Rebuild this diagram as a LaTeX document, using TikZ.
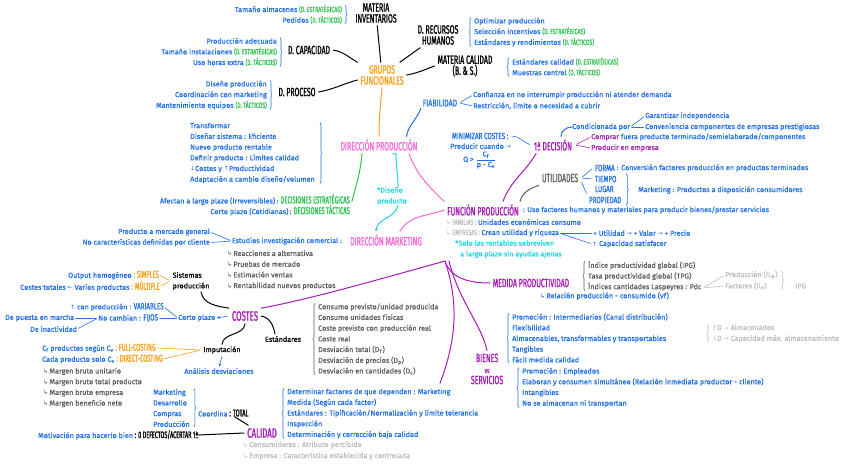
\documentclass[tikz,border=0pt]{standalone}
\usepackage{fontspec,amsmath}
\usepackage{tikz}
\usetikzlibrary{arrows.meta,positioning,decorations.pathreplacing,calc}
\setmainfont{Fira Sans}
\newfontfamily\hand[FakeBold=0.5]{Fira Sans}
\newfontfamily\tit[FakeStretch=0.58,FakeBold=1.2]{Fira Sans}
\newfontfamily\titc[FakeStretch=0.7,FakeBold=0.8]{Fira Sans}
\newfontfamily\simb{DejaVu Sans}
\definecolor{azul}{HTML}{1F6FE5}
\definecolor{verde}{HTML}{2FC24F}
\definecolor{naranja}{HTML}{F9A11B}
\definecolor{rosa}{HTML}{F76AD6}
\definecolor{morado}{HTML}{A61BB5}
\definecolor{cian}{HTML}{1ED6E3}
\definecolor{gris}{HTML}{5E5E5E}
\definecolor{grisc}{HTML}{BDBDBD}
\newcommand{\titg}{\tit\fontsize{12}{11}\selectfont}
\newcommand{\titxl}{\tit\fontsize{13.5}{12}\selectfont}
\newcommand{\titn}{\tit\fontsize{10}{10}\selectfont}
\newcommand{\titb}{\titc\fontsize{9}{9}\selectfont}
\newcommand{\titp}{\titc\fontsize{7.5}{7.5}\selectfont}
\newcommand{\destr}{\textcolor{verde}{\titp(D. ESTRATÉGICAS)}}
\newcommand{\dtact}{\textcolor{verde}{\titp(D. TÁCTICOS)}}
\newcommand{\subf}{{\simb\fontsize{6}{6}\selectfont ↳}\,}
\newcommand{\dcha}{{\simb\fontsize{6}{6}\selectfont →}}
\newcommand{\izq}{{\simb\fontsize{6}{6}\selectfont ←}}
\newcommand{\sube}{{\simb\fontsize{6}{6}\selectfont ↑}}
\newcommand{\baja}{{\simb\fontsize{6}{6}\selectfont ↓}}
\tikzset{
  txt/.style={inner sep=0pt,font=\hand\fontsize{7.2}{10.7}\selectfont,text=azul,align=left},
  gtxt/.style={txt,text=gris},
  tenue/.style={txt,text=grisc},
  ctxt/.style={txt,text=cian},
  ntxt/.style={txt,text=black,outer sep=2pt},
  bsub/.style={inner sep=0pt,outer sep=2pt,font=\titb,text=azul},
  titulo/.style={inner sep=0pt,outer sep=3pt,font=\titg,align=center},
  llave/.style={decorate,decoration={brace,amplitude=2pt},line width=0.6pt},
  rama/.style={line width=1pt,line cap=round},
  fino/.style={line width=0.6pt,line cap=round,shorten <=1.5pt,shorten >=1.5pt},
  punta/.style={-{Stealth[length=3pt,width=3pt]}}
}

\begin{document}
\begin{tikzpicture}[x=1pt,y=-1pt]
  \fill[white] (0,0) rectangle (848,463);
  \useasboundingbox (0,0) rectangle (848,463);

  % Grupos funcionales
  \node[titulo,text=naranja] (grupos) at (382,75) {GRUPOS\\FUNCIONALES};
  \node[titulo] (inv) at (376,13) {MATERIA\\INVENTARIOS};
  \node[txt,anchor=east,align=right] (invl) at (342,14.5) {Tamaño almacenes \destr\\Pedidos \dtact};
  \node[titulo] (cap) at (309,50) {D. CAPACIDAD};
  \node[txt,anchor=east,align=right] (capl) at (277,52) {Producción adecuada\\Tamaño instalaciones \destr\\Uso horas extra \dtact};
  \node[titulo] (proc) at (297,92) {D. PROCESO};
  \node[txt,anchor=east,align=right] (procl) at (267,95) {Diseño producción\\Coordinación con marketing\\Mantenimiento equipos \dtact};
  \node[titulo] (rrhh) at (438,35) {D. RECURSOS\\HUMANOS};
  \node[txt,anchor=west] (rrhhl) at (474,32) {Optimizar producción\\Selección incentivos \destr\\Estándares y rendimientos \dtact};
  \node[titulo] (mcal) at (465,66) {MATERIA CALIDAD\\(B. \& S.)};
  \node[txt,anchor=west] (mcall) at (512,67) {Estándares calidad \destr\\Muestras control \dtact};

  \draw[llave,azul] ([xshift=3pt]invl.north east) -- ([xshift=3pt]invl.south east);
  \draw[llave,azul] ([xshift=3pt]capl.north east) -- ([xshift=3pt]capl.south east);
  \draw[llave,azul] ([xshift=3pt]procl.north east) -- ([xshift=3pt]procl.south east);
  \draw[llave,azul] ([xshift=-3pt]rrhhl.south west) -- ([xshift=-3pt]rrhhl.north west);
  \draw[llave,azul] ([xshift=-3pt]mcall.south west) -- ([xshift=-3pt]mcall.north west);

  \draw[rama] (grupos) -- (inv);
  \draw[rama] (cap.east) to[out=-10,in=150] (grupos.north west);
  \draw[rama] (proc.east) to[out=10,in=195] ([shift={(0,5)}]grupos.west);
  \draw[rama] (grupos) -- (rrhh);
  \draw[rama] (grupos.east) to[out=10,in=200] (mcal.west);

  % Direccion produccion
  \node[bsub,font=\titc\fontsize{10}{10}\selectfont] (fiab) at (440,103) {FIABILIDAD};
  \node[txt,anchor=west] (fiab1) at (473,95) {Confianza en no interrumpir producción ni atender demanda};
  \node[txt,anchor=west] (fiab2) at (473,106) {Restricción, límite o necesidad a cubrir};
  \draw[azul,fino] (fiab.east) -- (fiab1.west);
  \draw[azul,fino] (fiab.east) -- (fiab2.west);

  \node[titulo,text=rosa] (dprod) at (379,145) {DIRECCIÓN PRODUCCIÓN};
  \node[txt,anchor=west] (dprodl) at (190,153) {Transformar\\Diseñar sistema : Eficiente\\Nuevo producto rentable\\Definir producto : Límites calidad\\\baja Costes y \sube Productividad\\Adaptación a cambio diseño/volumen};
  \draw[llave,azul] ([xshift=5pt]dprodl.north east) -- ([xshift=5pt]dprodl.south east);
  \node[txt,anchor=east,align=right] (dec) at (350,205) {Afectan a largo plazo (Irreversibles)\,: \textcolor{verde}{\titn DECISIONES ESTRATÉGICAS}\\Corto plazo (Cotidianas)\,: \textcolor{verde}{\titn DECISIONES TÁCTICAS}};
  \node[ctxt,anchor=west] (diseno) at (377,196) {*Diseño\\producto};

  \draw[rama,naranja] (grupos.south) to[out=-95,in=90] (dprod.north);
  \draw[rama,azul] ([xshift=-14pt]dprod.north east) to[out=80,in=-110] (fiab.south west);
  \draw[rama,verde] ([xshift=-17pt]dprod.south) to[out=-95,in=75] ([shift={(2,-4)}]dec.east);
  \draw[rama,cian] ([xshift=14pt]dprod.south) -- ++(3,0.5) to[out=-90,in=90] ([xshift=6pt]diseno.north);

  % Direccion marketing
  \node[titulo,text=rosa] (dmkt) at (386,240) {DIRECCIÓN MARKETING};
  \node[txt,anchor=east] (estud) at (342,241) {Estudios investigación comercial :};
  \node[txt,anchor=east] (mk1) at (210,232) {Producto a mercado general};
  \node[txt,anchor=east] (mk2) at (210,242.5) {No características definidas por cliente};
  \node[gtxt,anchor=west] (mkl) at (227,270) {\subf Reacciones a alternativa\\\subf Pruebas de mercado\\\subf Estimación ventas\\\subf Rentabilidad nuevos productos};
  \draw[azul,fino] (mk1.east) -- (estud.west);
  \draw[azul,fino] (mk2.east) -- (estud.west);
  \draw[rama,cian,punta] ([xshift=6pt]diseno.south) to[out=-100,in=85] ([xshift=-10pt]dmkt.north);

  % Funcion produccion
  \node[titulo,text=morado] (fprod) at (483,210) {FUNCIÓN PRODUCCIÓN};
  \node[txt,right=1pt of fprod] (fprodt) {: Uso factores humanos y materiales para producir bienes/prestar servicios};
  \node[txt,anchor=west] (fam) at (446,222) {\textcolor{grisc}{\subf{\titp FAMILIAS :}} Unidades económicas consumo};
  \node[txt,anchor=west] (emp) at (446,233) {\textcolor{grisc}{\subf{\titp EMPRESAS :}} Crean utilidad y riqueza};
  \node[txt,anchor=west] (util1) at (593,233) {+ Utilidad \dcha{} + Valor \dcha{} + Precio};
  \node[txt,anchor=west] (util2) at (592,244) {\sube{} Capacidad satisfacer};
  \draw[azul,fino] (emp.east) -- (util1.west);
  \draw[azul,fino] (emp.east) -- (util2.west);
  \node[ctxt,anchor=west] (solo) at (455,249) {*Solo las rentables sobreviven\\\hspace*{5pt}a largo plazo sin ayudas ajenas};

  \draw[rama,rosa] ([xshift=30pt]dprod.south) to[out=-70,in=135] (fprod.north west);
  \draw[rama,rosa] (fprod.west) to[out=200,in=60] ([xshift=-25pt]dmkt.north east);

  % Primera decision
  \node[bsub,anchor=west] (minc) at (450,136) {MINIMIZAR COSTES :};
  \node[txt,anchor=west] (prodc) at (450,146) {Producir cuando \dcha};
  \node[txt,anchor=west] (qcond) at (463,160) {Q > $\dfrac{\text{C\textsubscript{f}}}{\text{p - C\textsubscript{v}}}$};
  \node[titulo,text=morado] (dec1) at (553,145) {1ª DECISIÓN};
  \node[txt,anchor=west] (cond) at (572,127) {Condicionada por};
  \node[txt,anchor=west] (gar) at (645,116) {Garantizar independencia};
  \node[txt,anchor=west] (conv) at (645,127) {Conveniencia componentes de empresas prestigiosas};
  \node[txt,anchor=west] (comp) at (591,137) {\textcolor{morado}{Comprar} fuera producto terminado/semielaborado/componentes};
  \node[txt,anchor=west,text=morado] (pemp) at (591,148) {Producir en empresa};
  \draw[azul,fino] (minc.east) to[out=0,in=160] (dec1.west);
  \draw[azul,rama] ([xshift=8pt]dec1.north) to[out=90,in=180] (cond.west);
  \draw[azul,fino] (cond.east) -- (gar.west);
  \draw[azul,fino] (cond.east) -- (conv.west);
  \draw[morado,fino] (dec1.east) -- (comp.west);
  \draw[morado,fino] (dec1.east) -- (pemp.west);
  \draw[rama,morado] ([xshift=20pt]fprod.north) to[out=70,in=-120] ([xshift=5pt]dec1.south west);

  % Utilidades
  \node[titulo,text=gris] (utl) at (560,178) {UTILIDADES};
  \node[bsub,anchor=west] (uforma) at (593,168) {FORMA};
  \node[bsub,anchor=west] (utiempo) at (593,179) {TIEMPO};
  \node[bsub,anchor=west] (ulugar) at (593,189) {LUGAR};
  \node[bsub,anchor=west] (uprop) at (587,200) {PROPIEDAD};
  \node[txt,right=0pt of uforma] (fconv) {: Conversión factores producción en productos terminados};
  \node[txt,anchor=west] (umkt) at (638,190) {Marketing : Productos a disposición consumidores};
  \draw[llave,azul] ($(utiempo.north -| uprop.east)+(3,0)$) -- ($(uprop.south east)+(3,0)$);
  \draw[azul,fino] (utl.east) -- (uforma.west);
  \draw[azul,fino] (utl.east) -- (utiempo.west);
  \draw[azul,fino] ([shift={(0,3)}]utl.east) -- (uprop.north west);
  \draw[rama,gris] ([xshift=37pt]fprod.north) to[out=75,in=200] (utl.south west);

  % Medida productividad
  \node[titulo,text=morado] (mprod) at (531,283) {MEDIDA PRODUCTIVIDAD};
  \node[txt,anchor=west] (rel) at (540,296) {\subf Relación producción - consumido (vf)};
  \node[gtxt,anchor=west] (mpl) at (588,276) {Índice productividad global (IPG)\\Tasa productividad global (TPG)\\Índices cantidades Laspeyres : Pdc};
  \draw[llave,gris] ([xshift=-3pt]mpl.south west) -- ([xshift=-3pt]mpl.north west);
  \coordinate (pdc) at ($(mpl.south east)+(1,-3)$);
  \node[tenue,anchor=west] (ilp) at (725,275) {Producción (IL\textsubscript{p})};
  \node[tenue,anchor=west] (ilf) at (725,286) {Factores (IL\textsubscript{f})};
  \node[tenue,anchor=west] (ipg) at (795,286) {IPG};
  \draw[grisc,fino] (pdc) -- (ilp.west);
  \draw[grisc,fino] (pdc) -- (ilf.west);
  \draw[llave,grisc] ($(ilp.north east)+(4,0)$) -- ($(ilf.south -| ilp.east)+(4,0)$);

  % Bienes vs servicios
  \node[titulo,text=morado] (bys) at (487,369) {BIENES\\{\titp vs}\\SERVICIOS};
  \node[txt,anchor=west] (bien) at (512,338) {Promoción : Intermediarios (Canal distribución)\\Flexibilidad\\Almacenables, transformables y transportables\\Tangibles\\Fácil medida calidad};
  \node[tenue,anchor=west] (dem) at (712,333.5) {\sube D \dcha{} Almacenados\\\baja D \dcha{} Capacidad máx. almacenamiento};
  \node[txt,anchor=west] (serv) at (522,387.5) {Promoción : Empleados\\Elaboran y consumen simultáneo (Relación inmediata productor - cliente)\\Intangibles\\No se almacenan ni transportan};
  \draw[llave,azul] ([xshift=-3pt]bien.south west) -- ([xshift=-3pt]bien.north west);
  \draw[llave,grisc] ([xshift=-3pt]dem.south west) -- ([xshift=-3pt]dem.north west);
  \draw[llave,azul] ([xshift=-3pt]serv.south west) -- ([xshift=-3pt]serv.north west);

  % Costes
  \node[titulo,text=morado,font=\titxl] (costes) at (245,316) {COSTES};
  \node[txt,anchor=west] (cp) at (178,318) {Corto plazo};
  \node[txt,anchor=west] (fij) at (98,318) {No cambian : {\titb FIJOS}};
  \node[txt,anchor=west] (var) at (70,307) {\sube{} con producción : {\titb VARIABLES}};
  \node[txt,anchor=west] (pm) at (5,318) {De puesta en marcha};
  \node[txt,anchor=west] (inac) at (30,329) {De inactividad};
  \draw[azul,fino,punta] (costes.west) -- (cp.east);
  \draw[azul,fino] (cp.west) -- (fij.east);
  \draw[azul,fino] (var.east) -- (cp.west);
  \draw[azul,fino] (fij.west) -- (pm.east);
  \draw[azul,fino] (fij.west) -- (inac.east);

  \node[ntxt,align=left] (sist) at (191,281) {Sistemas\\producción};
  \node[txt,anchor=east] (simp) at (159,275) {Output homogéneo {\color{naranja}\titn : SIMPLES}};
  \node[txt,anchor=east] (mult) at (160,286) {Costes totales \izq{} Varios productos {\color{naranja}\titn : MÚLTIPLE}};
  \draw[naranja,fino] (simp.east) -- (sist.west);
  \draw[naranja,fino] (mult.east) -- (sist.west);
  \draw[rama] ([xshift=10pt]sist.south) to[out=-80,in=170] (costes.north west);

  \node[ntxt] (imp) at (222,350) {Imputación};
  \node[ntxt] (est) at (283,339) {Estándares};
  \node[txt,anchor=west] (full) at (42,348) {C\textsubscript{f} productos según C\textsubscript{v} {\color{naranja}\titn : FULL-COSTING}};
  \node[txt,anchor=west] (direct) at (42,359) {Cada producto solo C\textsubscript{v} {\color{naranja}\titn : DIRECT-COSTING}};
  \node[txt] (andes) at (219,371) {Análisis desviaciones};
  \node[gtxt,anchor=west] (marg) at (43,387.5) {\subf Margen bruto unitario\\\subf Margen bruto total producto\\\subf Margen bruto empresa\\\subf Margen beneficio neto};
  \node[gtxt,anchor=west] (estl) at (318,339) {Consumo previsto/unidad producida\\Consumo unidades físicas\\Coste previsto con producción real\\Coste real\\Desviación total (D\textsubscript{T})\\Desviación de precios (D\textsubscript{p})\\Desviación en cantidades (D\textsubscript{c})};
  \draw[llave,gris] ([xshift=-3pt]estl.south west) -- ([xshift=-3pt]estl.north west);
  \draw[rama] (costes.south) to[out=-95,in=85] (imp.north);
  \draw[rama] (costes.east) to[out=-10,in=100] ([xshift=-8pt]est.north);
  \draw[naranja,fino] (full.east) -- (imp.west);
  \draw[naranja,fino] (direct.east) -- (imp.west);
  \draw[azul,fino,punta] (imp.south) -- (andes.north);

  % Calidad
  \node[titulo,text=morado,font=\titxl] (calidad) at (262,433) {CALIDAD};
  \node[txt,anchor=west] (coordl) at (153,408) {Marketing\\Desarrollo\\Compras\\Producción};
  \draw[llave,azul] ([xshift=4pt]coordl.north east) -- ([xshift=4pt]coordl.south east);
  \node[txt,anchor=west] (coord) at (198,413) {Coordina {\color{black}\titn : TOTAL}};
  \node[txt,anchor=west] (motiv) at (38,435) {Motivación para hacerlo bien {\color{black}\tit\fontsize{9.5}{9.5}\selectfont : 0 DEFECTOS/ACERTAR 1ª}};
  \node[tenue,anchor=west] (cons) at (243,445) {\subf Consumidores : Atributo percibido};
  \node[tenue,anchor=west] (empr) at (243,456) {\subf Empresa : Característica establecida y controlada};
  \node[txt,anchor=west] (call) at (287,413.5) {Determinar factores de que dependen : Marketing\\Medida (Según cada factor)\\Estándares : Tipificación/Normalización y límite tolerancia\\Inspección\\Determinación y corrección baja calidad};
  \draw[llave,azul] ([xshift=-3pt]call.south west) -- ([xshift=-3pt]call.north west);
  \draw[rama] ([xshift=-14pt]coord.south east) -- ([xshift=4pt]calidad.north west);
  \draw[rama] (motiv.east) -- (calidad.west);

  % Ramas desde la funcion produccion
  \coordinate (fpie) at ($(solo.south west)+(-10,3)$);
  \coordinate (cfin) at ($(call.north west)+(153,-5)$);
  \draw[rama,morado] (fpie) .. controls +(-45,12) and +(55,-10) .. (costes.north east);
  \draw[rama,morado] (fpie) .. controls +(15,45) and +(15,-40) .. (cfin);
  \draw[rama,morado] ($(fpie)+(4,0)$) .. controls +(10,40) and +(-5,-25) .. (bys.north);
  \draw[rama,morado] (fpie) .. controls +(5,15) and +(-25,0) .. (mprod.west);
\end{tikzpicture}
\end{document}
